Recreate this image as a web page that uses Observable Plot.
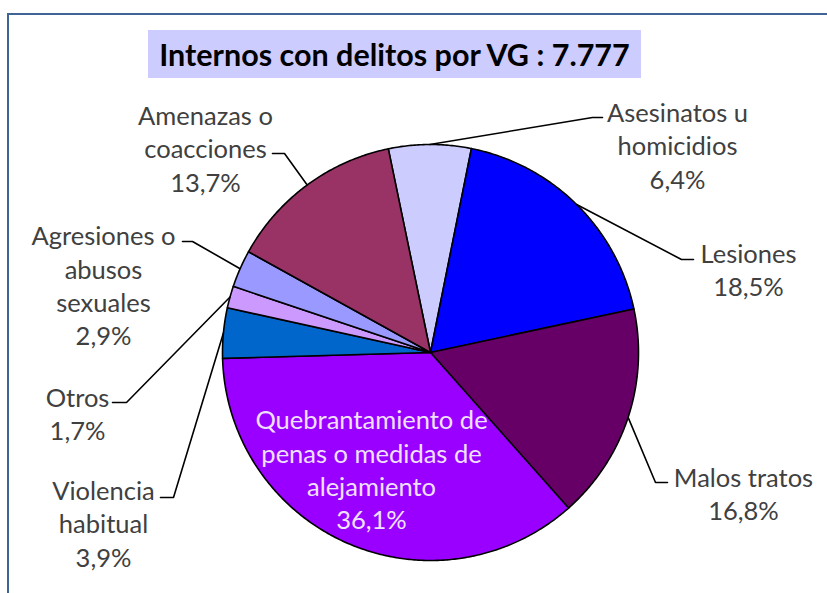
<!DOCTYPE html>
<html><head><meta charset="utf-8">
<script src="https://cdn.jsdelivr.net/npm/d3@7"></script>
<script src="https://cdn.jsdelivr.net/npm/@observablehq/plot@0.6"></script>
<style>
body{margin:0;background:#fff;font-family:Lato, sans-serif;}
#wrap{position:relative;width:827px;height:593px;overflow:hidden;}
#frame{position:absolute;left:7px;top:13px;width:900px;height:700px;border-left:2px solid #3F6496;border-top:2px solid #3F6496;}
#title{position:absolute;left:148px;top:30px;width:493px;height:48px;background:#CCCCFF;font-weight:bold;font-size:30.5px;line-height:48px;text-align:center;color:#000;white-space:nowrap;}
#chart{position:absolute;left:0;top:0;}
</style></head><body>
<div id="wrap"><div id="frame"></div><div id="title"><span id="tt"></span></div><div id="chart"></div></div>
<script>
const total = 7777;
const categories = ["Asesinatos u homicidios", "Lesiones", "Malos tratos", "Quebrantamiento de penas o medidas de alejamiento", "Violencia habitual", "Otros", "Agresiones o abusos sexuales", "Amenazas o coacciones"];
const labelLines = ["Asesinatos u\nhomicidios", "Lesiones", "Malos tratos", "Quebrantamiento de\npenas o medidas de\nalejamiento", "Violencia\nhabitual", "Otros", "Agresiones o\nabusos\nsexuales", "Amenazas o\ncoacciones"];
const shares = [6.4, 18.5, 16.8, 36.1, 3.9, 1.7, 2.9, 13.7];
const colors = ["#CCCCFF", "#0000FF", "#660066", "#9900FF", "#0066CC", "#CC99FF", "#9999FF", "#993366"];

// layout (pixels): label block centre, leader elbow, leader end
const W = 827, H = 593, CX = 430, CY = 352, R = 208;
const labelLayout = [
  {c:[677,144], elbow:[592,117], end:[602,117]},
  {c:[748,268], elbow:[681,259], end:[693,259]},
  {c:[743,492], elbow:[655,482], end:[667,482]},
  {c:[371,468], inside:true},
  {c:[103,522], elbow:[173,497], end:[160,497]},
  {c:[77,412], elbow:[126,402], end:[112,402]},
  {c:[103,284], elbow:[192,241], end:[182,241]},
  {c:[205,147], elbow:[284,153], end:[272,153]}
];
const toU = ([px,py]) => ({x:(px-CX)/R, y:(CY-py)/R});

const loc = d3.formatLocale({decimal:",", thousands:".", grouping:[3], currency:["",""]});
const fPct = loc.format(".1f"), fInt = loc.format(",d");
document.getElementById("tt").textContent = "Internos con delitos por VG : " + fInt(total);

const startAngle = -11.7 * Math.PI / 180;
const arcs = d3.pie().sort(null).startAngle(startAngle).endAngle(startAngle + 2*Math.PI)(shares);

const slicePts = [];
arcs.forEach((a, i) => {
  const name = categories[i];
  slicePts.push({name, x:0, y:0});
  const n = Math.max(2, Math.ceil((a.endAngle - a.startAngle) / (Math.PI/360)));
  for (let k = 0; k <= n; k++) {
    const t = a.startAngle + (a.endAngle - a.startAngle) * k / n;
    slicePts.push({name, x:Math.sin(t), y:Math.cos(t)});
  }
  slicePts.push({name, x:0, y:0});
});

const leaderPts = [];
const labels = [];
arcs.forEach((a, i) => {
  const L = labelLayout[i];
  const mid = (a.startAngle + a.endAngle) / 2;
  if (!L.inside) {
    leaderPts.push({name:categories[i], x:Math.sin(mid), y:Math.cos(mid)});
    leaderPts.push({name:categories[i], ...toU(L.elbow)});
    leaderPts.push({name:categories[i], ...toU(L.end)});
  }
  labels.push({name:categories[i], inside:!!L.inside, ...toU(L.c), text: labelLines[i] + "\n" + fPct(shares[i]) + "%"});
});

const chart = Plot.plot({
  width: W, height: H, margin: 0,
  x: {domain: [-CX/R, (W-CX)/R], axis: null},
  y: {domain: [(CY-H)/R, CY/R], axis: null},
  color: {domain: categories, range: colors},
  style: {background: "transparent", overflow: "visible"},
  marks: [
    Plot.line(slicePts, {x:"x", y:"y", z:"name", fill:"name", stroke:"black", strokeWidth:1.6, strokeLinejoin:"round"}),
    Plot.line(leaderPts, {x:"x", y:"y", z:"name", stroke:"black", strokeWidth:1.6, strokeLinejoin:"miter"}),
    Plot.text(labels.filter(d => !d.inside), {x:"x", y:"y", text:"text", fontSize:25.5, fontFamily:"Lato", lineHeight:1.31, fill:"#404040"}),
    Plot.text(labels.filter(d => d.inside), {x:"x", y:"y", text:"text", fontSize:25.5, fontFamily:"Lato", lineHeight:1.31, fill:"#F0E0FF"})
  ]
});
document.getElementById("chart").appendChild(chart);
</script>
</body></html>
